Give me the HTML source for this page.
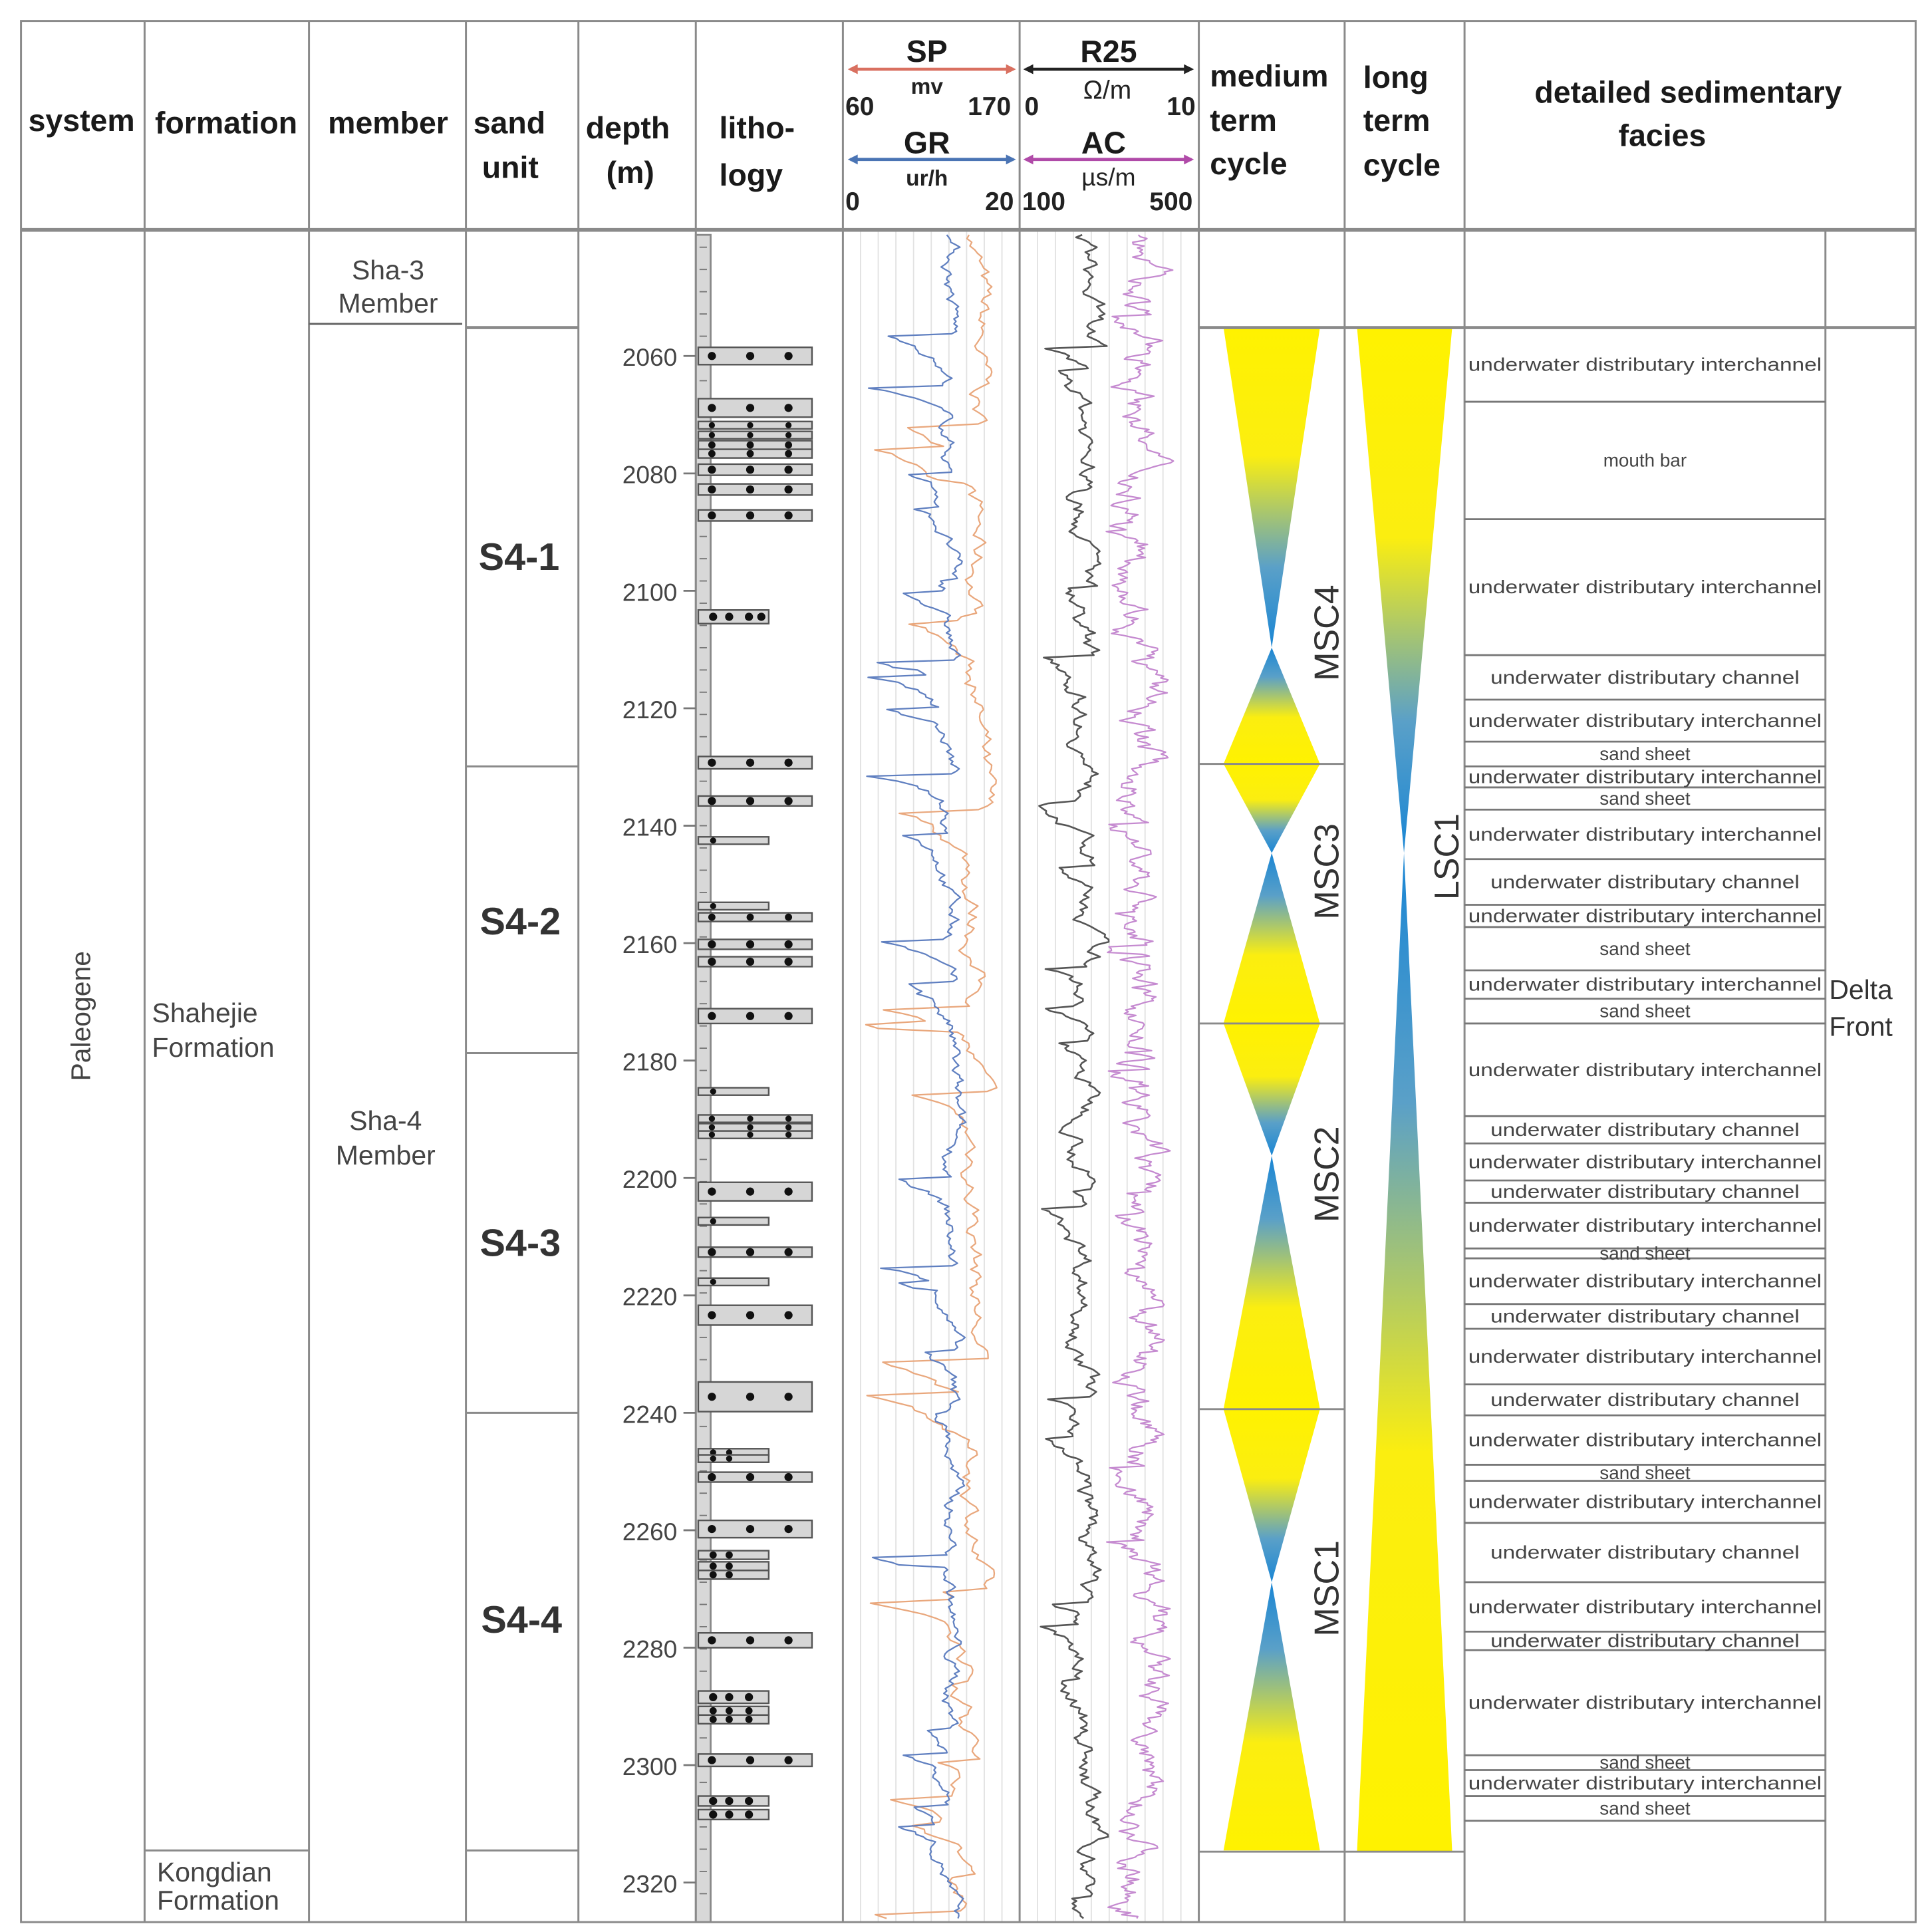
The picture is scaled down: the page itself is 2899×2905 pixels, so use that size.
<!DOCTYPE html>
<html><head><meta charset="utf-8">
<style>
html,body{margin:0;padding:0;background:#fff;}
svg{display:block;}
text{font-family:"Liberation Sans",sans-serif;fill:#222;}
.h{font-weight:bold;font-size:25px;fill:#1a1a1a;}
.s{font-size:15px;fill:#444;}
.d{font-size:20px;fill:#444;}
</style></head><body>
<svg id="g" xmlns="http://www.w3.org/2000/svg" width="2899" height="2905" viewBox="0 0 1560 1563" preserveAspectRatio="none">
<defs>
<linearGradient id="gd" x1="0" y1="0" x2="0" y2="1"><stop offset="0" stop-color="#fff200"/><stop offset="0.4" stop-color="#fbee10"/><stop offset="0.75" stop-color="#5aa0c8"/><stop offset="1" stop-color="#1a86d4"/></linearGradient>
<linearGradient id="gu" x1="0" y1="1" x2="0" y2="0"><stop offset="0" stop-color="#fff200"/><stop offset="0.4" stop-color="#fbee10"/><stop offset="0.75" stop-color="#5aa0c8"/><stop offset="1" stop-color="#1a86d4"/></linearGradient>
</defs>
<g id="grid"></g>
<g id="curves"></g>
<g id="lith"></g>
<g id="cyc"></g>
<g id="lines" stroke="#8a8a8a" stroke-width="1.6" fill="none">
<rect x="17" y="17" width="1533" height="1538"/>
<line x1="17" y1="186" x2="1550" y2="186" stroke-width="3"/>
<line x1="117" y1="17" x2="117" y2="1555"/><line x1="250" y1="17" x2="250" y2="1555"/>
<line x1="377" y1="17" x2="377" y2="1555"/><line x1="468" y1="17" x2="468" y2="1555"/>
<line x1="563" y1="17" x2="563" y2="1555"/><line x1="682" y1="17" x2="682" y2="1555"/>
<line x1="825" y1="17" x2="825" y2="1555"/><line x1="970" y1="17" x2="970" y2="1555"/>
<line x1="1088" y1="17" x2="1088" y2="1555"/><line x1="1185" y1="17" x2="1185" y2="1555"/>
<line x1="1477" y1="187" x2="1477" y2="1555"/>
<line x1="377" y1="265" x2="468" y2="265" stroke-width="2.5"/>
<line x1="970" y1="265" x2="1550" y2="265" stroke-width="2.5"/>
<line x1="377" y1="620" x2="468" y2="620"/><line x1="377" y1="852" x2="468" y2="852"/>
<line x1="377" y1="1143" x2="468" y2="1143"/>
<line x1="117" y1="1497" x2="250" y2="1497"/><line x1="377" y1="1497" x2="468" y2="1497"/>
<line x1="970" y1="618" x2="1088" y2="618"/><line x1="970" y1="828" x2="1088" y2="828"/>
<line x1="970" y1="1140" x2="1088" y2="1140"/><line x1="970" y1="1498" x2="1185" y2="1498"/>
<polyline id="wavy" points="" stroke="#666"/>
</g>
<g id="fac" stroke="#777" stroke-width="1.5"></g>
<!-- header -->
<text class="h" x="66" y="106" text-anchor="middle">system</text>
<text class="h" x="183" y="108" text-anchor="middle">formation</text>
<text class="h" x="314" y="108" text-anchor="middle">member</text>
<text class="h" x="383" y="108">sand</text><text class="h" x="390" y="144">unit</text>
<text class="h" x="508" y="112" text-anchor="middle">depth</text><text class="h" x="510" y="148" text-anchor="middle">(m)</text>
<text class="h" x="582" y="112">litho-</text><text class="h" x="582" y="150">logy</text>
<text class="h" x="750" y="50" text-anchor="middle">SP</text>
<text class="h" x="750" y="124" text-anchor="middle">GR</text>
<text class="h" x="897" y="50" text-anchor="middle">R25</text>
<text class="h" x="893" y="124" text-anchor="middle">AC</text>
<g font-size="20" font-weight="bold">
<text x="750" y="76" text-anchor="middle" style="font-size:18px">mv</text>
<text x="684" y="93" style="font-size:21px">60</text><text x="783" y="93" style="font-size:21px">170</text>
<text x="750" y="150" text-anchor="middle" style="font-size:18px">ur/h</text>
<text x="684" y="170" style="font-size:21px">0</text><text x="797" y="170" style="font-size:21px">20</text>
<text x="896" y="80" text-anchor="middle" style="font-size:21px;font-weight:normal">Ω/m</text>
<text x="829" y="93" style="font-size:21px">0</text><text x="944" y="93" style="font-size:21px">10</text>
<text x="897" y="150" text-anchor="middle" style="font-size:20px;font-weight:normal">µs/m</text>
<text x="827" y="170" style="font-size:21px">100</text><text x="930" y="170" style="font-size:21px">500</text>
</g>
<g stroke-width="2.5">
<line x1="688" y1="56" x2="820" y2="56" stroke="#d97060"/><path d="M686 56l8-4v8zM822 56l-8-4v8z" fill="#d97060"/>
<line x1="688" y1="129" x2="820" y2="129" stroke="#4a74b4"/><path d="M686 129l8-4v8zM822 129l-8-4v8z" fill="#4a74b4"/>
<line x1="830" y1="56" x2="964" y2="56" stroke="#222"/><path d="M828 56l8-4v8zM966 56l-8-4v8z" fill="#222"/>
<line x1="830" y1="129" x2="964" y2="129" stroke="#b04aa8"/><path d="M828 129l8-4v8zM966 129l-8-4v8z" fill="#b04aa8"/>
</g>
<text class="h" x="979" y="70">medium</text><text class="h" x="979" y="106">term</text><text class="h" x="979" y="141">cycle</text>
<text class="h" x="1103" y="71">long</text><text class="h" x="1103" y="106">term</text><text class="h" x="1103" y="142">cycle</text>
<text class="h" x="1366" y="83" text-anchor="middle">detailed sedimentary</text><text class="h" x="1345" y="118" text-anchor="middle">facies</text>
<!-- body labels -->
<text transform="translate(73,822) rotate(-90)" text-anchor="middle" style="font-size:22px;fill:#444">Paleogene</text>
<text x="123" y="827" style="font-size:22px;fill:#444">Shahejie</text><text x="123" y="855" style="font-size:22px;fill:#444">Formation</text>
<text x="314" y="226" text-anchor="middle" style="font-size:22px;fill:#444">Sha-3</text><text x="314" y="253" text-anchor="middle" style="font-size:22px;fill:#444">Member</text>
<text x="312" y="914" text-anchor="middle" style="font-size:22px;fill:#444">Sha-4</text><text x="312" y="942" text-anchor="middle" style="font-size:22px;fill:#444">Member</text>
<text x="127" y="1522" style="font-size:22px;fill:#444">Kongdian</text><text x="127" y="1545" style="font-size:22px;fill:#444">Formation</text>
<text x="1480" y="808" style="font-size:22px;fill:#333">Delta</text><text x="1480" y="838" style="font-size:22px;fill:#333">Front</text>
<g style="font-size:31px;font-weight:bold">
<text x="420" y="461" text-anchor="middle" style="fill:#333">S4-1</text>
<text x="421" y="756" text-anchor="middle" style="fill:#333">S4-2</text>
<text x="421" y="1016" text-anchor="middle" style="fill:#333">S4-3</text>
<text x="422" y="1321" text-anchor="middle" style="fill:#333">S4-4</text>
</g>
<text transform="translate(1083,512) rotate(-90)" text-anchor="middle" style="font-size:28px;fill:#333">MSC4</text>
<text transform="translate(1083,705) rotate(-90)" text-anchor="middle" style="font-size:28px;fill:#333">MSC3</text>
<text transform="translate(1083,950) rotate(-90)" text-anchor="middle" style="font-size:28px;fill:#333">MSC2</text>
<text transform="translate(1083,1285) rotate(-90)" text-anchor="middle" style="font-size:28px;fill:#333">MSC1</text>
<text transform="translate(1180,693) rotate(-90)" text-anchor="middle" style="font-size:28px;fill:#333">LSC1</text>
<g id="depths"></g>
<g id="factext"></g>
</svg>
<script>
var NS="http://www.w3.org/2000/svg";
function el(p,t,a){var e=document.createElementNS(NS,t);for(var k in a)e.setAttribute(k,a[k]);document.getElementById(p).appendChild(e);return e;}
var w="";for(var x=250;x<=377;x+=4){w+=x+","+(265+((x/4)%2?-3:3))+" ";}
document.getElementById("wavy").setAttribute("points",w);
for(var i=1;i<10;i++){el("grid","line",{x1:682+i*14.3,y1:187,x2:682+i*14.3,y2:1555,stroke:"#e2e2e2","stroke-width":1});
el("grid","line",{x1:825+i*14.5,y1:187,x2:825+i*14.5,y2:1555,stroke:"#e2e2e2","stroke-width":1});}
function Y(d){return 288+(d-2060)*4.75;}
for(var d=2060;d<=2320;d+=20){var t=el("depths","text",{x:548,y:Y(d)+8,"text-anchor":"end","class":"d"});t.textContent=d;
el("depths","line",{x1:553,y1:Y(d),x2:563,y2:Y(d),stroke:"#777","stroke-width":1.5});}
el("lith","rect",{x:563,y:190,width:12,height:1365,fill:"#d8d8d8",stroke:"#888","stroke-width":1.5});
for(var y=200;y<1550;y+=18){el("lith","line",{x1:566,y1:y,x2:572,y2:y,stroke:"#777","stroke-width":1});}
var B=[[288,14,657,3],[330,15,657,3],[344,6,657,3],[352,6,657,3],[360,7,657,3],[367,7,657,3],[380,9,657,3],[396,9,657,3],[417,9,657,3],[499,11,622,4],[617,10,657,3],[648,8,657,3],[680,6,622,1],[733,6,622,1],[742,7,657,3],[764,8,657,3],[778,8,657,3],[822,12,657,3],[883,6,622,1],[905,6,657,3],[912,6,657,3],[918,6,657,3],[964,15,657,3],[988,6,622,1],[1013,8,657,3],[1037,6,622,1],[1064,16,657,3],[1130,24,657,4],[1175,6,622,2],[1180,6,622,2],[1195,8,657,3],[1237,14,657,3],[1258,7,622,2],[1267,7,622,2],[1274,7,622,2],[1327,12,657,3],[1373,10,622,3],[1384,7,622,3],[1391,7,622,3],[1424,10,657,3],[1457,8,622,3],[1468,8,622,3]];
B.forEach(function(b){el("lith","rect",{x:565,y:b[0]-b[1]/2,width:b[2]-565,height:b[1],fill:"#d6d6d6",stroke:"#555","stroke-width":1.3});
var n=b[3];var xs=b[2]==657?[576,607,638]:[577,590,606,616];for(var i=0;i<Math.min(n,xs.length);i++)el("lith","circle",{cx:xs[i],cy:b[0],r:Math.min(3.3,b[1]/2.4),fill:"#111"});});
var s=7;function R(){s=(s*16807)%2147483647;return s/2147483647;}
function curve(x0,x1,base,amp,col,sw,step,jag){var p="",v=base;for(var y=190;y<1553;y+=step){v+= (R()-0.5)*jag;v+=(base-v)*0.15;if(R()<0.04)v=base-amp*R();var x=Math.max(x0,Math.min(x1,v));p+=x.toFixed(1)+","+y+" ";}
el("curves","polyline",{points:p,fill:"none",stroke:col,"stroke-width":sw,"stroke-linejoin":"round"});}
curve(690,822,790,90,"#e9a77c",1.2,3,14);
curve(690,822,770,70,"#5f7fc0",1.2,2,10);
curve(830,966,880,40,"#555",1.4,2,14);
curve(830,966,925,30,"#c58ad0",1.2,1.5,22);
[[265,524,618],[618,690,828],[828,935,1140],[1140,1280,1497]].forEach(function(c){
 el("cyc","polygon",{points:"990,"+c[0]+" 1068,"+c[0]+" 1029,"+c[1],fill:"url(#gd)"});
 el("cyc","polygon",{points:"1029,"+c[1]+" 990,"+c[2]+" 1068,"+c[2],fill:"url(#gu)"});});
el("cyc","polygon",{points:"1098,265 1175,265 1136,690",fill:"url(#gd)"});
el("cyc","polygon",{points:"1136,690 1098,1498 1175,1498",fill:"url(#gu)"});
var F=[[265,325,"underwater distributary interchannel"],[325,420,"mouth bar"],[420,530,"underwater distributary interchannel"],[530,566,"underwater distributary channel"],[566,600,"underwater distributary interchannel"],[600,620,"sand sheet"],[620,637,"underwater distributary interchannel"],[637,655,"sand sheet"],[655,695,"underwater distributary interchannel"],[695,732,"underwater distributary channel"],[732,750,"underwater distributary interchannel"],[750,785,"sand sheet"],[785,808,"underwater distributary interchannel"],[808,828,"sand sheet"],[828,903,"underwater distributary interchannel"],[903,925,"underwater distributary channel"],[925,955,"underwater distributary interchannel"],[955,973,"underwater distributary channel"],[973,1010,"underwater distributary interchannel"],[1010,1018,"sand sheet"],[1018,1055,"underwater distributary interchannel"],[1055,1075,"underwater distributary channel"],[1075,1120,"underwater distributary interchannel"],[1120,1145,"underwater distributary channel"],[1145,1185,"underwater distributary interchannel"],[1185,1198,"sand sheet"],[1198,1232,"underwater distributary interchannel"],[1232,1280,"underwater distributary channel"],[1280,1320,"underwater distributary interchannel"],[1320,1335,"underwater distributary channel"],[1335,1420,"underwater distributary interchannel"],[1420,1432,"sand sheet"],[1432,1453,"underwater distributary interchannel"],[1453,1473,"sand sheet"]];
F.forEach(function(f){el("fac","line",{x1:1185,y1:f[1],x2:1477,y2:f[1]});
var t=el("factext","text",{x:1331,y:((f[0]+f[1])/2+5).toFixed(1),"text-anchor":"middle","class":"s"});t.textContent=f[2];
if(f[2].indexOf("interchannel")>=0){t.setAttribute("textLength","286");t.setAttribute("lengthAdjust","spacingAndGlyphs");}
else if(f[2].indexOf("channel")>=0){t.setAttribute("textLength","250");t.setAttribute("lengthAdjust","spacingAndGlyphs");}});
</script>
</body></html>
